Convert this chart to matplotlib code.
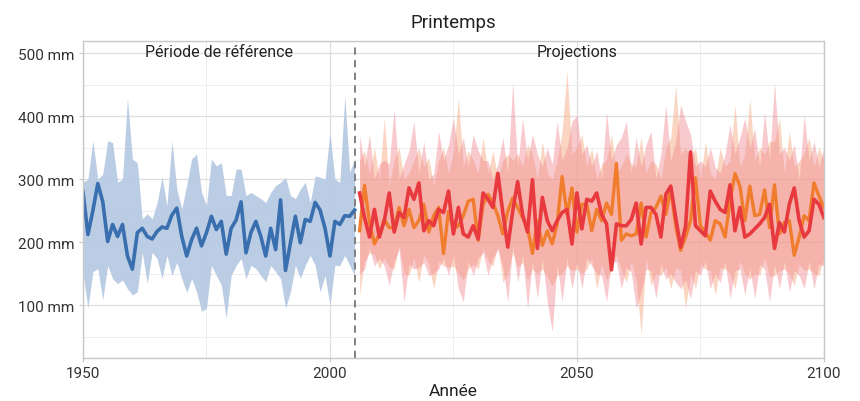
import matplotlib
matplotlib.use("Agg")
import matplotlib.pyplot as plt
import numpy as np

plt.rcParams['font.family'] = ['Roboto', 'DejaVu Sans']

# période de référence 1950-2005
annees_ref = np.arange(1950, 2006)
ref_moy = [280, 212, 250, 293, 264, 201, 228, 209, 228, 178,
           157, 215, 222, 209, 205, 217, 224, 222, 243, 254,
           209, 178, 204, 222, 194, 215, 241, 220, 233, 181,
           222, 235, 264, 183, 215, 233, 209, 178, 222, 188,
           267, 155, 199, 241, 199, 236, 233, 263, 251, 222,
           178, 233, 228, 242, 241, 251]
ref_haut = [295, 300, 361, 300, 308, 361, 358, 295, 300, 429,
            332, 326, 237, 245, 237, 263, 303, 258, 361, 284,
            253, 290, 332, 340, 279, 258, 332, 321, 326, 274,
            274, 316, 316, 274, 279, 274, 269, 263, 279, 290,
            295, 303, 274, 269, 284, 295, 263, 305, 303, 300,
            374, 300, 295, 432, 311, 332]
ref_bas = [150, 95, 153, 158, 108, 163, 142, 134, 140, 126,
           116, 121, 184, 134, 184, 174, 142, 179, 147, 168,
           142, 120, 142, 121, 90, 95, 163, 147, 132, 79,
           147, 163, 174, 142, 163, 158, 147, 137, 163, 153,
           142, 95, 121, 163, 142, 163, 179, 163, 121, 147,
           100, 163, 163, 179, 163, 147]

# projections 2006-2100
annees_proj = np.arange(2006, 2101)
orange_moy = [218, 290, 231, 197, 213, 236, 223, 223, 255, 226,
              252, 223, 234, 260, 216, 242, 255, 182, 249, 221,
              226, 242, 265, 268, 203, 260, 276, 262, 242, 213,
              249, 270, 255, 239, 223, 182, 234, 195, 218, 197,
              229, 304, 244, 286, 216, 260, 260, 218, 252, 234,
              262, 244, 325, 203, 213, 210, 213, 262, 208, 247,
              255, 273, 244, 285, 226, 187, 208, 234, 302, 226,
              216, 203, 234, 229, 208, 265, 309, 289, 234, 289,
              242, 244, 283, 223, 291, 213, 231, 234, 179, 208,
              242, 234, 294, 273, 255]
rouge_moy = [278, 239, 208, 252, 208, 234, 278, 216, 247, 239,
             286, 268, 294, 218, 234, 226, 252, 247, 281, 213,
             255, 213, 208, 226, 205, 278, 268, 255, 309, 247,
             192, 249, 296, 244, 216, 299, 190, 271, 234, 218,
             234, 247, 252, 197, 278, 221, 268, 265, 278, 244,
             229, 156, 229, 226, 226, 236, 262, 197, 255, 255,
             244, 208, 276, 289, 239, 192, 225, 343, 226, 218,
             210, 281, 265, 252, 247, 291, 218, 255, 208, 213,
             221, 229, 239, 260, 190, 231, 216, 260, 286, 234,
             208, 218, 268, 260, 239]
orange_haut = [330, 345, 310, 350, 300, 397, 290, 330, 350, 300,
               310, 330, 350, 320, 334, 290, 330, 350, 310, 340,
               428, 320, 345, 330, 310, 366, 310, 345, 300, 330,
               340, 330, 340, 320, 355, 340, 300, 360, 310, 300,
               330, 376, 472, 340, 350, 371, 320, 350, 300, 324,
               330, 371, 310, 320, 340, 324, 320, 366, 310, 330,
               324, 300, 350, 366, 449, 340, 350, 330, 350, 300,
               360, 310, 300, 350, 320, 330, 418, 320, 340, 428,
               330, 350, 340, 360, 360, 397, 310, 376, 320, 329,
               340, 366, 320, 350, 330]
orange_bas = [116, 170, 183, 180, 157, 175, 160, 157, 195, 150,
              147, 175, 136, 180, 165, 126, 170, 162, 160, 162,
              150, 140, 157, 165, 157, 190, 170, 162, 195, 136,
              150, 183, 160, 168, 140, 157, 150, 157, 145, 130,
              147, 150, 162, 155, 157, 150, 157, 175, 126, 165,
              140, 157, 180, 155, 136, 170, 140, 53, 175, 131,
              150, 147, 160, 126, 160, 155, 95, 150, 126, 165,
              157, 155, 116, 160, 157, 150, 126, 170, 150, 141,
              150, 147, 175, 145, 147, 155, 157, 150, 131, 165,
              155, 157, 150, 147, 175]
rouge_haut = [370, 320, 371, 300, 324, 330, 324, 412, 300, 324,
              345, 392, 310, 360, 300, 308, 376, 330, 355, 397,
              340, 366, 320, 371, 345, 330, 329, 300, 324, 366,
              310, 454, 320, 397, 330, 371, 340, 320, 350, 324,
              392, 330, 350, 392, 402, 340, 355, 320, 345, 300,
              407, 330, 355, 366, 392, 310, 366, 320, 355, 376,
              300, 340, 418, 330, 360, 418, 392, 371, 320, 329,
              320, 350, 319, 310, 340, 387, 340, 366, 397, 350,
              381, 320, 407, 330, 454, 340, 350, 330, 355, 300,
              402, 330, 360, 320, 350]
rouge_bas = [150, 157, 190, 162, 175, 162, 131, 170, 188, 105,
             165, 157, 160, 168, 147, 150, 157, 175, 147, 180,
             126, 105, 170, 147, 175, 183, 147, 175, 188, 160,
             105, 195, 136, 180, 95, 170, 110, 175, 105, 58,
             165, 105, 175, 126, 170, 126, 175, 162, 150, 147,
             105, 170, 168, 126, 160, 152, 95, 120, 157, 155,
             110, 165, 141, 150, 136, 126, 140, 110, 155, 147,
             170, 126, 150, 136, 170, 110, 155, 157, 116, 160,
             110, 165, 157, 105, 165, 126, 170, 121, 155, 147,
             126, 170, 126, 165, 162]

fig = plt.figure(figsize=(8.6, 4.02), dpi=100)
ax = fig.add_axes([0.0965, 0.107, 0.8615, 0.788])

ax.fill_between(annees_ref, ref_bas, ref_haut, color='#b8cbe3', lw=0, alpha=0.95)
ax.fill_between(annees_proj, orange_bas, orange_haut, color='#f7b48e', lw=0, alpha=0.55)
ax.fill_between(annees_proj, rouge_bas, rouge_haut, color='#f08a92', lw=0, alpha=0.45)

ax.plot(annees_ref, ref_moy, color='#3a6faf', lw=2.6, solid_joinstyle='round')
ax.plot(annees_proj, orange_moy, color='#f07d2e', lw=2.4, solid_joinstyle='round')
ax.plot(annees_proj, rouge_moy, color='#e8393f', lw=2.6, solid_joinstyle='round')

ax.axvline(2005, color='#777777', lw=1.3, ls=(0, (4, 3)))

ax.set_xlim(1950, 2100)
ax.set_ylim(16, 519)
ax.set_xticks([1950, 2000, 2050, 2100])
ax.set_xticks([1975, 2025, 2075], minor=True)
ax.set_yticks([100, 200, 300, 400, 500])
ax.set_yticks([50, 150, 250, 350, 450], minor=True)
ax.set_yticklabels([f'{v} mm' for v in [100, 200, 300, 400, 500]])

ax.grid(which='major', color='#dedede', lw=0.9)
ax.grid(which='minor', color='#eeeeee', lw=0.7)
ax.set_axisbelow(True)
for s in ax.spines.values():
    s.set_color('#c8c8c8')
    s.set_linewidth(1.0)
ax.tick_params(which='major', length=3, color='#c8c8c8', labelsize=11, labelcolor='#333333', pad=3)
ax.tick_params(which='minor', length=0)

ax.set_xlabel('Année', fontsize=12.5, color='#222222', labelpad=2)
ax.set_title('Printemps', fontsize=13.5, color='#222222', pad=10)

ax.text(1977.5, 503, 'Période de référence', ha='center', va='center', fontsize=11.5, color='#222222')
ax.text(2050, 503, 'Projections', ha='center', va='center', fontsize=11.5, color='#222222')

fig.savefig('out.png', dpi=100)
